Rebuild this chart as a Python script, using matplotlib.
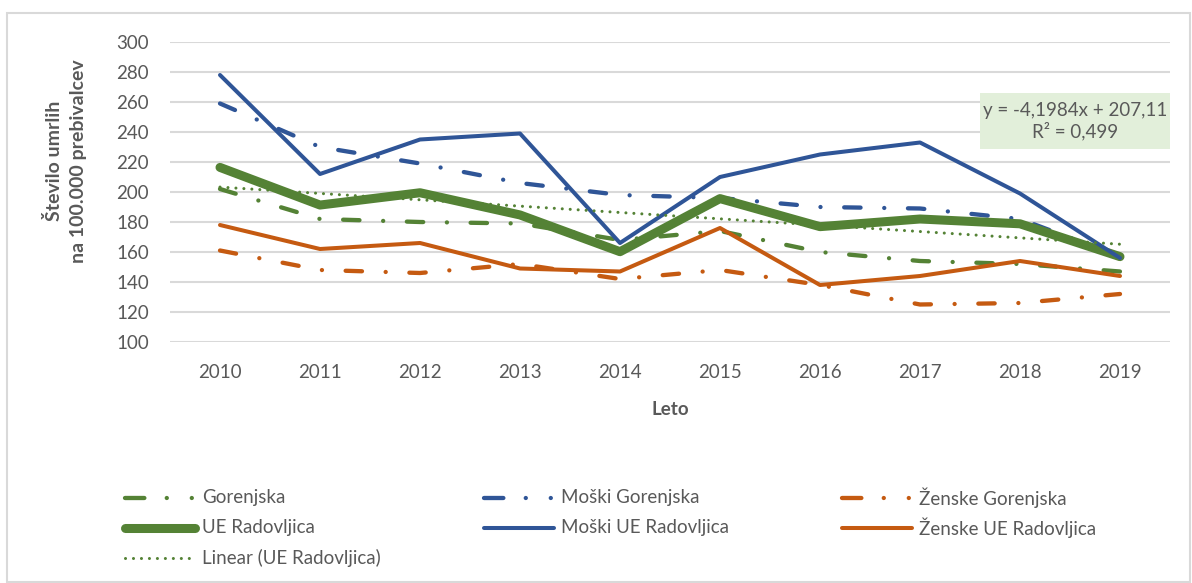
import numpy as np
import matplotlib
matplotlib.use('Agg')
import matplotlib.pyplot as plt
from matplotlib.patches import Rectangle
from matplotlib.lines import Line2D

plt.rcParams['font.family'] = ['Lato', 'DejaVu Sans']

# data
years = ['2010', '2011', '2012', '2013', '2014', '2015', '2016', '2017', '2018', '2019']
gorenjska = [202, 182, 180, 179, 168, 174, 160, 154, 152, 147]
moski_gorenjska = [259, 230, 219, 206, 198, 196, 190, 189, 182, 157]
zenske_gorenjska = [161, 148, 146, 152, 142, 148, 138, 125, 126, 132]
ue_radovljica = [216.4, 191.3, 199.5, 184.7, 160.2, 195.6, 176.9, 182.0, 178.8, 156.9]
moski_ue = [278, 212, 235, 239, 166, 210, 225, 233, 199, 156]
zenske_ue = [178, 162, 166, 149, 147, 176, 138, 144, 154, 144]
trend_text = 'y = -4,1984x + 207,11\nR² = 0,499'

green = '#548235'
blue = '#2f5597'
orange = '#c55a11'
grey = '#595959'
dashdot = (0, (3.8, 5.5, 0.01, 5.5))
dashdot_leg = (0, (4.5, 5.2, 0.01, 5.8, 0.01, 10))
dotted = (0, (0.01, 2.6))

fig = plt.figure(figsize=(11.92, 5.83), dpi=100)
ax = fig.add_axes([170 / 1192, 1 - 342 / 583, 1000 / 1192, 300 / 583])

x = np.arange(len(years))
ax.plot(x, gorenjska, color=green, lw=3.1, ls=dashdot, dash_capstyle='round')
ax.plot(x, moski_gorenjska, color=blue, lw=3.1, ls=dashdot, dash_capstyle='round')
ax.plot(x, zenske_gorenjska, color=orange, lw=3.1, ls=dashdot, dash_capstyle='round')
ax.plot(x, ue_radovljica, color=green, lw=6.5, solid_capstyle='round', solid_joinstyle='round')
ax.plot(x, moski_ue, color=blue, lw=2.9, solid_capstyle='round', solid_joinstyle='round')
ax.plot(x, zenske_ue, color=orange, lw=2.9, solid_capstyle='round', solid_joinstyle='round')

# linear trend of UE Radovljica
k, n = np.polyfit(x + 1, ue_radovljica, 1)
ax.plot(x, k * (x + 1) + n, color=green, lw=2.2, ls=dotted, dash_capstyle='round')

ax.set_xlim(-0.5, 9.5)
ax.set_ylim(100, 300)
ax.set_yticks(range(100, 301, 20))
ax.set_xticks(x)
ax.set_xticklabels(years)
ax.grid(axis='y', color='#d9d9d9', lw=1.5)
ax.set_axisbelow(True)
for s in ax.spines.values():
    s.set_visible(False)
ax.tick_params(length=0, labelsize=13.5, labelcolor=grey)
ax.tick_params(axis='y', pad=15)
ax.tick_params(axis='x', pad=16)
ax.set_xlabel('Leto', fontsize=13.5, fontweight='bold', color=grey, labelpad=14)

fig.text(66 / 1192, 1 - 161 / 583, 'Število umrlih\nna 100.000 prebivalcev', rotation=90,
         ha='center', va='center', fontsize=14, fontweight='bold', color=grey, linespacing=1.5)

# trendline equation box
fig.patches.append(Rectangle((980 / 1192, 1 - 149 / 583), 190 / 1192, 56 / 583,
                             transform=fig.transFigure, facecolor='#e2efda', edgecolor='none'))
fig.text(1075 / 1192, 1 - 121 / 583, trend_text, ha='center', va='center',
         fontsize=13.5, color=grey, linespacing=1.2)

# outer chart border
fig.patches.append(Rectangle((7 / 1192, 0.002), 1183 / 1192, 1 - 13 / 583 - 0.002,
                             transform=fig.transFigure, facecolor='none', edgecolor='#d9d9d9', lw=1.5))

# legend, laid out in rows like the original
legend_items = [
    ('Gorenjska', green, 3.1, dashdot_leg, 123, 498),
    ('Moški Gorenjska', blue, 3.1, dashdot_leg, 482, 498),
    ('Ženske Gorenjska', orange, 3.1, dashdot_leg, 840, 498),
    ('UE Radovljica', green, 6.5, '-', 123, 528),
    ('Moški UE Radovljica', blue, 2.9, '-', 482, 528),
    ('Ženske UE Radovljica', orange, 2.9, '-', 840, 528),
    ('Linear (UE Radovljica)', green, 2.2, dotted, 123, 558),
]
for label, col, lw, ls, px, py in legend_items:
    yy = 1 - py / 583
    fig.add_artist(Line2D([(px + 2) / 1192, (px + 72) / 1192], [yy, yy], transform=fig.transFigure,
                          color=col, lw=lw, ls=ls, dash_capstyle='round', solid_capstyle='round'))
    fig.text((px + 79) / 1192, yy, label, ha='left', va='center', fontsize=13.5, color=grey)

fig.savefig('out.png', dpi=100)
